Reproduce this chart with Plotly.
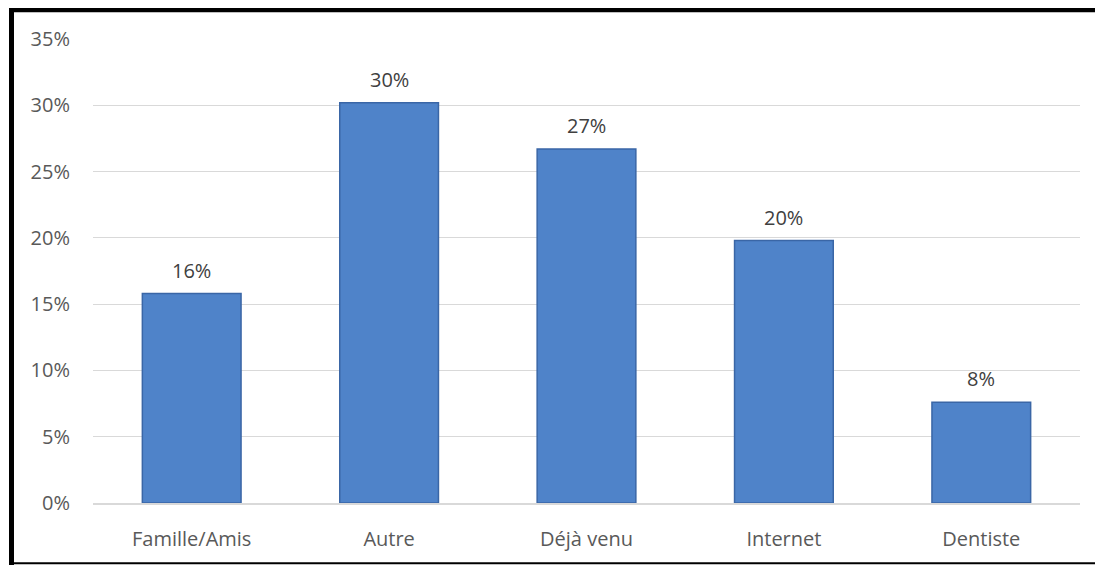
import plotly.graph_objects as go

categories = ["Famille/Amis", "Autre", "Déjà venu", "Internet", "Dentiste"]
values = [0.158, 0.302, 0.267, 0.198, 0.076]
labels = ["16%", "30%", "27%", "20%", "8%"]
y_ticks = [0, 0.05, 0.10, 0.15, 0.20, 0.25, 0.30, 0.35]

OFF = 8  # page body margin
W, H = 1103 - OFF, 565 - OFF
# plot area in page pixels: x 93..1080, y 39..503
L, R, T, B = 93 - OFF, 1103 - 1080, 39 - OFF, 565 - 503
pw, ph = W - L - R, H - T - B

def px_x(x):
    return (x - OFF - L) / pw

def px_y(y):
    return (H - B - (y - OFF)) / ph

fig = go.Figure()
fig.add_trace(go.Bar(
    x=categories, y=values,
    marker=dict(color="#4F83C9", line=dict(color="#3A66A6", width=1.5)),
    hoverinfo="x+y",
))

for c, v, t in zip(categories, values, labels):
    fig.add_annotation(x=c, y=v, text=t, showarrow=False, yanchor="bottom",
                       yshift=8, font=dict(family="Open Sans", size=20, color="#404040"))

border = "#000000"
fig.add_shape(type="line", xref="paper", yref="paper",
              x0=px_x(11.5), x1=px_x(11.5), y0=px_y(566), y1=px_y(6),
              line=dict(color=border, width=5))
fig.add_shape(type="line", xref="paper", yref="paper",
              x0=px_x(9), x1=px_x(1104), y0=px_y(9.3), y1=px_y(9.3),
              line=dict(color=border, width=6))
fig.add_shape(type="line", xref="paper", yref="paper",
              x0=px_x(9), x1=px_x(1104), y0=px_y(563.3), y1=px_y(563.3),
              line=dict(color=border, width=2))

fig.update_layout(
    width=W, height=H,
    margin=dict(l=L, r=R, t=T, b=B),
    paper_bgcolor="white", plot_bgcolor="white",
    bargap=0.5, showlegend=False,
    font=dict(family="Open Sans", size=20, color="#595959"),
)
fig.update_yaxes(range=[0, 0.35], tickvals=y_ticks, tickformat=".0%",
                 showgrid=True, gridcolor="#D9D9D9", gridwidth=1,
                 zeroline=False, showline=False, ticks="",
                 ticklabelstandoff=22, automargin=False,
                 tickfont=dict(size=20, color="#595959"))
fig.update_xaxes(showline=True, linecolor="#D9D9D9", linewidth=1.5,
                 ticks="", ticklabelstandoff=17, automargin=False,
                 tickfont=dict(size=20, color="#595959"))

fig.write_html("out.html")
